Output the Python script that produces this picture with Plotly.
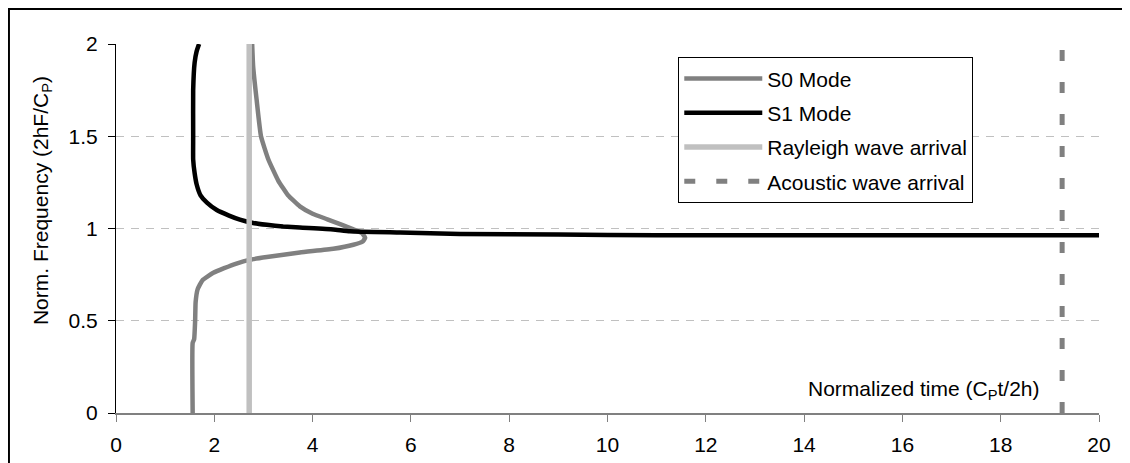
import plotly.graph_objects as go

# ---- data ----
s0_x = [1.56, 1.56, 1.59, 1.61, 1.62, 1.66, 1.76, 1.98, 2.2, 2.45, 2.71, 3.07, 3.74, 4.42, 4.83, 5.02, 5.07, 5.0,
        4.83, 4.6, 4.3, 4.0, 3.74, 3.5, 3.3, 3.1, 2.95, 2.86, 2.79, 2.77]
s0_y = [0.0, 0.38, 0.40, 0.50, 0.60, 0.67, 0.72, 0.76, 0.785, 0.81, 0.83, 0.845, 0.87, 0.89, 0.912, 0.93, 0.95, 0.975,
        0.995, 1.02, 1.05, 1.08, 1.12, 1.18, 1.26, 1.374, 1.50, 1.70, 1.88, 2.0]

s1_x = [1.69, 1.64, 1.60, 1.57, 1.57, 1.57, 1.60, 1.64, 1.72, 1.85, 2.05, 2.3, 2.52, 2.79, 3.07, 3.40, 3.74, 4.42,
        4.76, 5.78, 7.0, 9.0, 11.0, 15.0, 20.0]
s1_y = [2.0, 1.96, 1.90, 1.75, 1.50, 1.374, 1.30, 1.24, 1.18, 1.14, 1.10, 1.07, 1.048, 1.03, 1.02, 1.011, 1.005, 0.995,
        0.985, 0.978, 0.970, 0.967, 0.964, 0.963, 0.963]

rayleigh_t = 2.71
acoustic_t = 19.25
freq_range = [0, 2]

x_ticks = [0, 2, 4, 6, 8, 10, 12, 14, 16, 18, 20]
y_ticks = [0, 0.5, 1, 1.5, 2]
y_tick_text = ["0", "0.5", "1", "1.5", "2"]

FONT = "Liberation Sans, Arial, sans-serif"
FS = 21

fig = go.Figure()
fig.add_trace(go.Scatter(x=s0_x, y=s0_y, mode="lines", name="S0 Mode", legendgroup="a",
                         line=dict(color="#808080", width=4.5, shape="spline", smoothing=0.4)))
fig.add_trace(go.Scatter(x=s1_x, y=s1_y, mode="lines", name="S1 Mode", legendgroup="b",
                         line=dict(color="#000000", width=4.5, shape="spline", smoothing=0.4)))
fig.add_trace(go.Scatter(x=[rayleigh_t, rayleigh_t], y=freq_range, mode="lines", name="Rayleigh wave arrival",
                         legendgroup="c", line=dict(color="#c0c0c0", width=5.5)))
fig.add_trace(go.Scatter(x=[acoustic_t, acoustic_t], y=freq_range, mode="lines", name="Acoustic wave arrival",
                         legendgroup="d", line=dict(color="#808080", width=5, dash="11px,21px")))

# page body adds an 8px offset; margins compensate so the plot area sits at x 116-1099, y 44-413
fig.update_layout(
    width=1122, height=455,
    margin=dict(l=108, r=31, t=36, b=50, autoexpand=False),
    paper_bgcolor="white", plot_bgcolor="white",
    font=dict(family=FONT, size=FS, color="black"),
    showlegend=True,
    legend=dict(x=0.572, y=0.964, xanchor="left", yanchor="top",
                bordercolor="black", borderwidth=1, bgcolor="white",
                font=dict(family=FONT, size=FS), itemwidth=78, tracegroupgap=4,
                traceorder="grouped"),
    xaxis=dict(range=[0, 20], tickvals=x_ticks, showgrid=False, zeroline=False,
               showline=True, linecolor="#808080", linewidth=2, automargin=False,
               ticks="outside", ticklen=7, tickcolor="#808080", tickwidth=1,
               ticklabelstandoff=5,
               tickfont=dict(family=FONT, size=FS)),
    yaxis=dict(range=[0, 2], tickvals=y_ticks, ticktext=y_tick_text, zeroline=False,
               showgrid=True, gridcolor="#c0c0c0", gridwidth=1, griddash="8px,7px",
               showline=True, linecolor="black", linewidth=1, automargin=False,
               ticks="outside", ticklen=7, tickcolor="black", tickwidth=1,
               ticklabelstandoff=6,
               tickfont=dict(family=FONT, size=FS)),
    annotations=[
        dict(text="Normalized time (C<sub>P</sub>t/2h)", xref="paper", yref="paper",
             x=0.942, y=0.062, xanchor="right", yanchor="middle", showarrow=False,
             font=dict(family=FONT, size=FS)),
        dict(text="Norm. Frequency (2hF/C<sub>P</sub>)", xref="paper", yref="paper",
             x=-0.0753, y=0.577, xanchor="center", yanchor="middle", textangle=-90,
             showarrow=False, font=dict(family=FONT, size=FS)),
    ],
    shapes=[
        dict(type="rect", xref="paper", yref="paper", x0=-0.1089, y0=-0.25, x1=1.05, y1=1.0949,
             line=dict(color="black", width=2), fillcolor="rgba(0,0,0,0)", layer="above"),
    ],
)

fig.write_html("out.html")
